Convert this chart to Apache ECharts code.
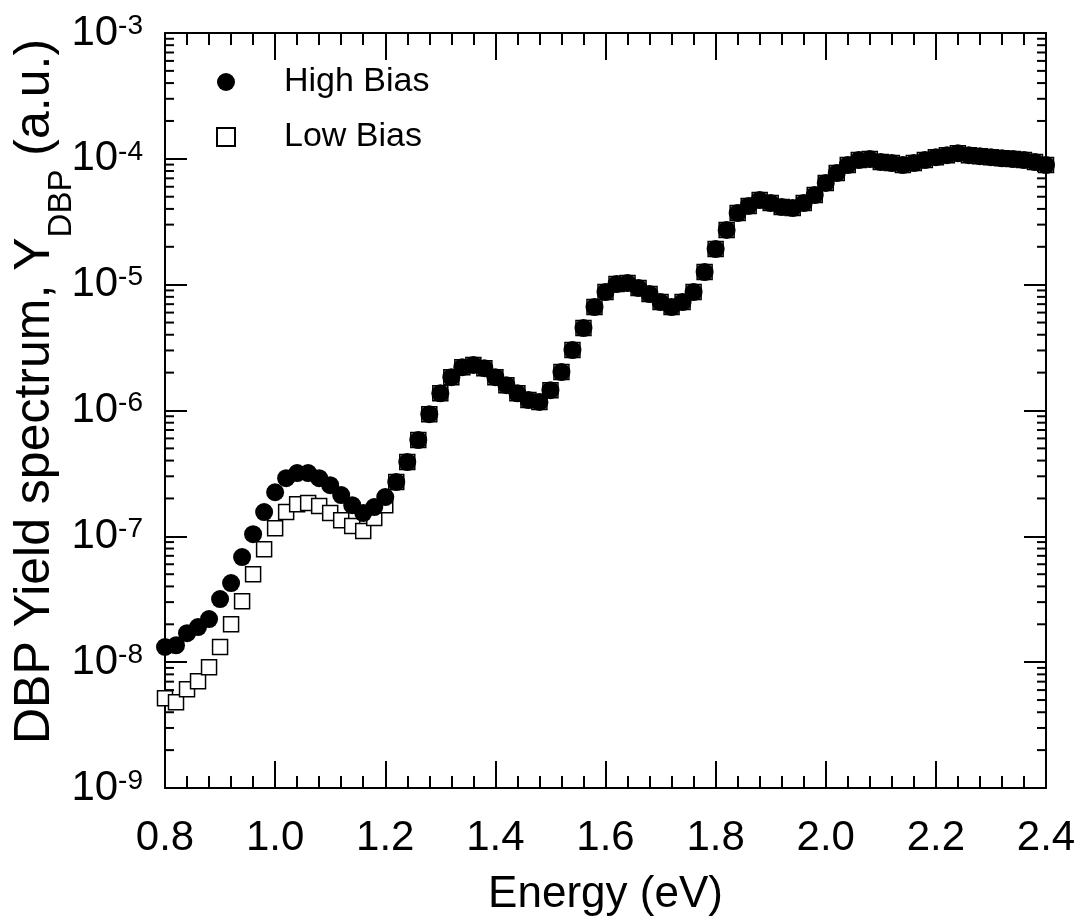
<!DOCTYPE html>
<html>
<head>
<meta charset="utf-8">
<script src="https://cdn.jsdelivr.net/npm/echarts@6/dist/echarts.min.js"></script>
<style>
  html, body { margin: 0; padding: 0; background: #fff; }
  #chart { width: 1082px; height: 922px; }
</style>
</head>
<body>
<div id="chart"></div>
<script>
// photon energy (eV)
const energy = [
  0.80, 0.82, 0.84, 0.86, 0.88, 0.90, 0.92, 0.94, 0.96, 0.98,
  1.00, 1.02, 1.04, 1.06, 1.08, 1.10, 1.12, 1.14, 1.16, 1.18,
  1.20, 1.22, 1.24, 1.26, 1.28, 1.30, 1.32, 1.34, 1.36, 1.38,
  1.40, 1.42, 1.44, 1.46, 1.48, 1.50, 1.52, 1.54, 1.56, 1.58,
  1.60, 1.62, 1.64, 1.66, 1.68, 1.70, 1.72, 1.74, 1.76, 1.78,
  1.80, 1.82, 1.84, 1.86, 1.88, 1.90, 1.92, 1.94, 1.96, 1.98,
  2.00, 2.02, 2.04, 2.06, 2.08, 2.10, 2.12, 2.14, 2.16, 2.18,
  2.20, 2.22, 2.24, 2.26, 2.28, 2.30, 2.32, 2.34, 2.36, 2.38,
  2.40
];

// DBP yield, high bias
const highBias = [
  1.32e-8, 1.36e-8, 1.70e-8, 1.90e-8, 2.20e-8, 3.17e-8, 4.25e-8, 6.84e-8, 1.04e-7, 1.56e-7,
  2.24e-7, 2.90e-7, 3.18e-7, 3.18e-7, 2.90e-7, 2.55e-7, 2.13e-7, 1.77e-7, 1.53e-7, 1.71e-7,
  2.05e-7, 2.70e-7, 3.89e-7, 5.82e-7, 9.35e-7, 1.37e-6, 1.84e-6, 2.21e-6, 2.30e-6, 2.17e-6,
  1.84e-6, 1.59e-6, 1.37e-6, 1.21e-6, 1.17e-6, 1.45e-6, 2.02e-6, 3.02e-6, 4.52e-6, 6.64e-6,
  8.73e-6, 1.01e-5, 1.03e-5, 9.40e-6, 8.42e-6, 7.27e-6, 6.64e-6, 7.27e-6, 8.73e-6, 1.26e-5,
  1.92e-5, 2.72e-5, 3.71e-5, 4.22e-5, 4.70e-5, 4.45e-5, 4.14e-5, 4.06e-5, 4.45e-5, 5.15e-5,
  6.43e-5, 7.71e-5, 8.93e-5, 9.78e-5, 9.96e-5, 9.43e-5, 9.26e-5, 8.93e-5, 9.26e-5, 9.78e-5,
  1.03e-4, 1.07e-4, 1.11e-4, 1.07e-4, 1.05e-4, 1.03e-4, 1.01e-4, 9.96e-5, 9.78e-5, 9.43e-5,
  8.93e-5
];

// DBP yield, low bias (hidden under the filled circles above ~1.2 eV)
const lowBias = [
  5.17e-9, 4.81e-9, 6.10e-9, 7.06e-9, 9.12e-9, 1.32e-8, 2.00e-8, 3.05e-8, 5.00e-8, 7.90e-8,
  1.16e-7, 1.56e-7, 1.80e-7, 1.84e-7, 1.74e-7, 1.53e-7, 1.34e-7, 1.21e-7, 1.10e-7, 1.40e-7,
  1.77e-7, 2.70e-7, 3.89e-7, 5.82e-7, 9.35e-7, 1.37e-6, 1.84e-6, 2.21e-6, 2.30e-6, 2.17e-6,
  1.84e-6, 1.59e-6, 1.37e-6, 1.21e-6, 1.17e-6, 1.45e-6, 2.02e-6, 3.02e-6, 4.52e-6, 6.64e-6,
  8.73e-6, 1.01e-5, 1.03e-5, 9.40e-6, 8.42e-6, 7.27e-6, 6.64e-6, 7.27e-6, 8.73e-6, 1.26e-5,
  1.92e-5, 2.72e-5, 3.71e-5, 4.22e-5, 4.70e-5, 4.45e-5, 4.14e-5, 4.06e-5, 4.45e-5, 5.15e-5,
  6.43e-5, 7.71e-5, 8.93e-5, 9.78e-5, 9.96e-5, 9.43e-5, 9.26e-5, 8.93e-5, 9.26e-5, 9.78e-5,
  1.03e-4, 1.07e-4, 1.11e-4, 1.07e-4, 1.05e-4, 1.03e-4, 1.01e-4, 9.96e-5, 9.78e-5, 9.43e-5,
  8.93e-5
];

const xTicks = [0.8, 1.0, 1.2, 1.4, 1.6, 1.8, 2.0, 2.2, 2.4];
const yDecades = [-9, -8, -7, -6, -5, -4, -3];

// minor ticks of the log axis: 2..9 x 10^n
const yMinorTicks = [];
yDecades.slice(0, -1).forEach(e => {
  for (let k = 2; k <= 9; k++) yMinorTicks.push([xTicks[0], k * Math.pow(10, e)]);
});

const FONT = "'Liberation Sans', Arial, sans-serif";

const chart = echarts.init(document.getElementById('chart'));

const xAxisBase = {
  type: 'value',
  min: 0.8,
  max: 2.4,
  interval: 0.2,
  axisLine: { lineStyle: { color: '#000', width: 2 } },
  axisTick: { inside: true, length: 27, lineStyle: { color: '#000', width: 2 } },
  minorTick: { show: true, splitNumber: 5, length: 12, lineStyle: { color: '#000', width: 2 } },
  splitLine: { show: false }
};

const yAxisBase = {
  type: 'log',
  logBase: 10,
  min: 1e-9,
  max: 1e-3,
  splitNumber: 6,
  axisLine: { lineStyle: { color: '#000', width: 2 } },
  axisTick: { inside: true, length: 22, lineStyle: { color: '#000', width: 2 } },
  splitLine: { show: false }
};

const option = {
  animation: false,
  backgroundColor: '#fff',
  textStyle: { fontFamily: FONT, color: '#000' },
  grid: { left: 165, right: 36, top: 33, bottom: 134, containLabel: false, outerBoundsMode: 'none' },
  legend: {
    orient: 'vertical',
    left: 211,
    top: 60,
    itemWidth: 18,
    itemHeight: 18,
    itemGap: 21,
    selectedMode: false,
    data: ['High Bias', 'Low Bias'],
    textStyle: { fontSize: 34, fontFamily: FONT, color: '#000', lineHeight: 34, padding: [0, 0, 0, 44] }
  },
  xAxis: [
    Object.assign({}, xAxisBase, {
      position: 'bottom',
      name: 'Energy (eV)',
      nameLocation: 'middle',
      nameGap: 85,
      nameMoveOverlap: false,
      nameTextStyle: { fontSize: 44, fontFamily: FONT, color: '#000' },
      axisLabel: {
        margin: 29,
        fontSize: 42,
        fontFamily: FONT,
        color: '#000',
        formatter: v => v.toFixed(1)
      }
    }),
    Object.assign({}, xAxisBase, { position: 'top', axisLabel: { show: false } })
  ],
  yAxis: [
    Object.assign({}, yAxisBase, {
      position: 'left',
      name: '{m|DBP Yield spectrum, Y}{sub|DBP}{m| (a.u.)}',
      nameLocation: 'middle',
      nameRotate: 90,
      nameGap: 105,
      nameMoveOverlap: false,
      nameTextStyle: {
        padding: [0, 0, 0, 38],
        rich: {
          m: { fontSize: 50, lineHeight: 50, fontFamily: FONT, color: '#000', verticalAlign: 'top' },
          sub: { fontSize: 33, lineHeight: 33, padding: [35, 0, 0, 0], fontFamily: FONT, color: '#000', verticalAlign: 'top' }
        }
      },
      axisLabel: {
        margin: 22,
        formatter: v => '{b|10}{s|' + Math.round(Math.log10(v)) + '}',
        rich: {
          b: { fontSize: 42, lineHeight: 42, fontFamily: FONT, color: '#000', verticalAlign: 'bottom' },
          s: { fontSize: 28, lineHeight: 24, fontFamily: FONT, color: '#000', verticalAlign: 'top' }
        }
      }
    }),
    Object.assign({}, yAxisBase, { position: 'right', axisLabel: { show: false } })
  ],
  series: [
    {
      name: 'yMinor',
      type: 'custom',
      silent: true,
      xAxisIndex: 0,
      yAxisIndex: 0,
      data: yMinorTicks,
      encode: { x: 0, y: 1 },
      renderItem: (params, api) => {
        const rect = params.coordSys;
        const y = api.coord([api.value(0), api.value(1)])[1];
        const st = { stroke: '#000', lineWidth: 2 };
        return {
          type: 'group',
          children: [
            { type: 'line', shape: { x1: rect.x, y1: y, x2: rect.x + 9, y2: y }, style: st },
            { type: 'line', shape: { x1: rect.x + rect.width - 9, y1: y, x2: rect.x + rect.width, y2: y }, style: st }
          ]
        };
      }
    },
    {
      name: 'Low Bias',
      type: 'scatter',
      symbol: 'rect',
      symbolSize: 15,
      itemStyle: { color: '#fff', borderColor: '#000', borderWidth: 1.5, opacity: 1 },
      data: energy.map((e, i) => [e, lowBias[i]]),
      z: 3
    },
    {
      name: 'High Bias',
      type: 'scatter',
      symbol: 'circle',
      symbolSize: 18,
      itemStyle: { color: '#000', opacity: 1 },
      data: energy.map((e, i) => [e, highBias[i]]),
      z: 4
    }
  ]
};

chart.setOption(option);
</script>
</body>
</html>
